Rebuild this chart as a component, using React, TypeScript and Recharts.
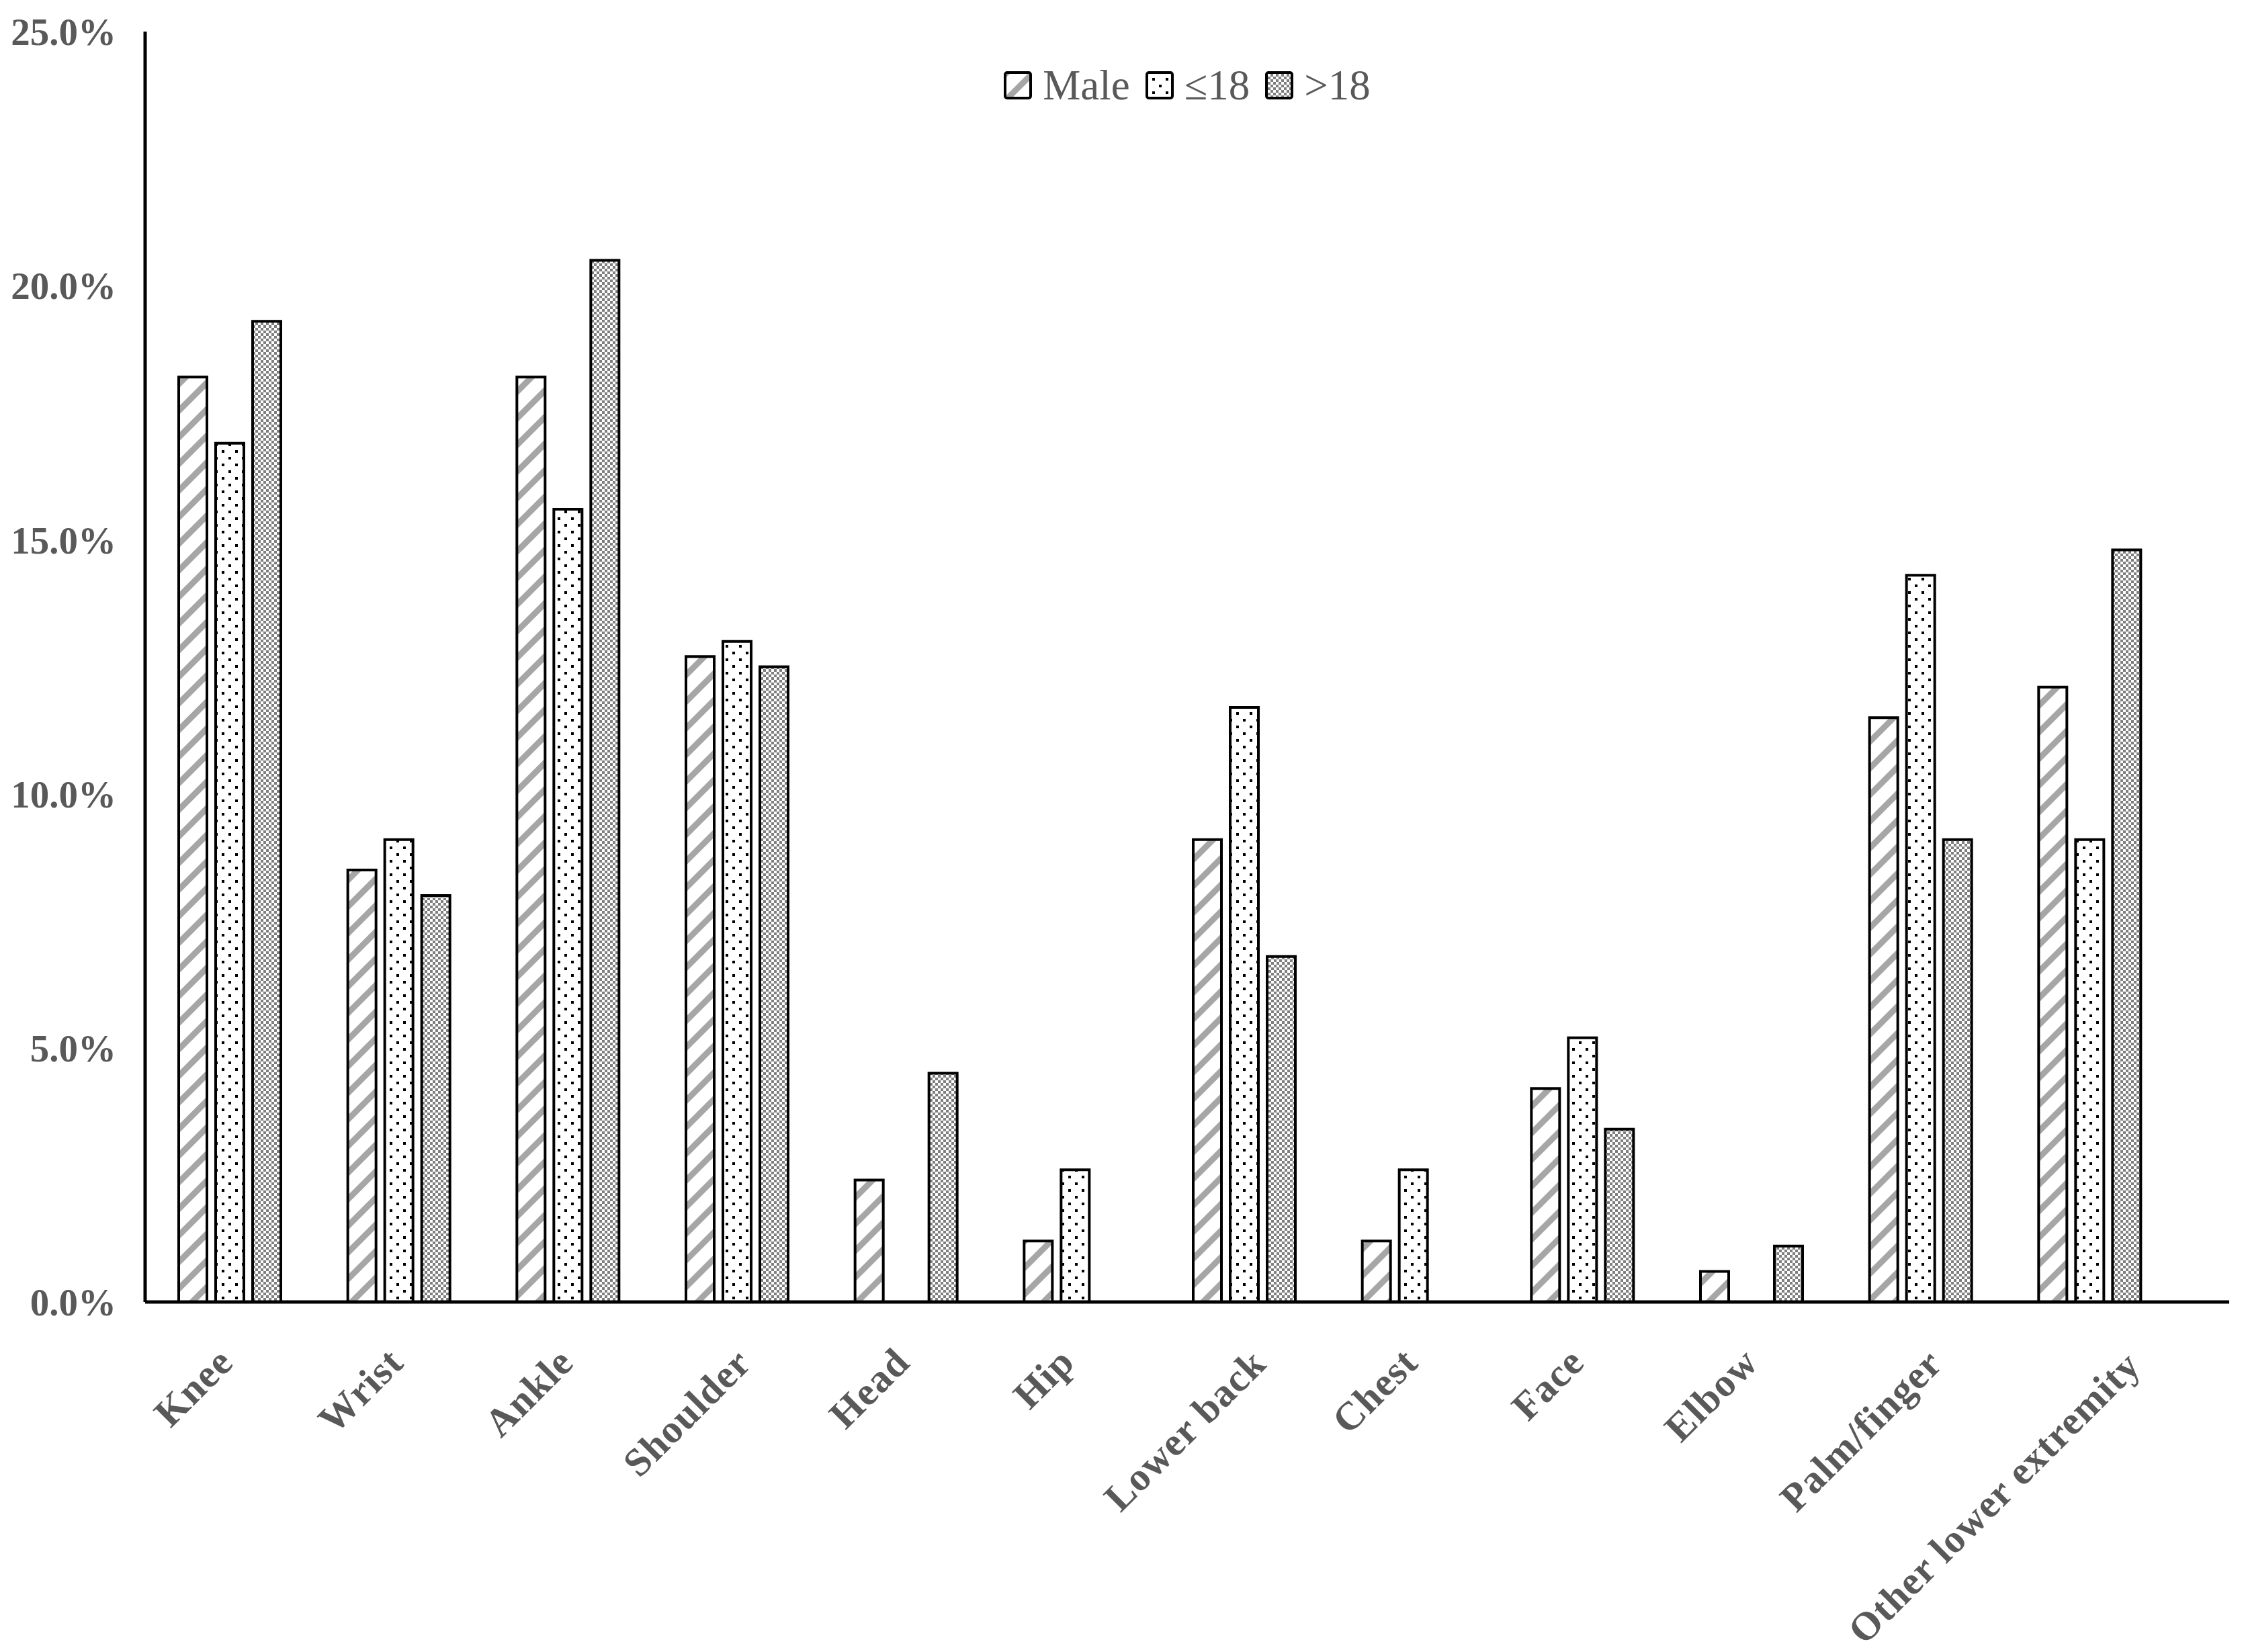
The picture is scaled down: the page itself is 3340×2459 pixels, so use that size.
import React from 'react';
import { Bar, BarChart, Legend, XAxis, YAxis } from 'recharts';

const categories = [
  'Knee',
  'Wrist',
  'Ankle',
  'Shoulder',
  'Head',
  'Hip',
  'Lower back',
  'Chest',
  'Face',
  'Elbow',
  'Palm/finger',
  'Other lower extremity',
];
const maleValues = [18.2, 8.5, 18.2, 12.7, 2.4, 1.2, 9.1, 1.2, 4.2, 0.6, 11.5, 12.1];
const under18Values = [16.9, 9.1, 15.6, 13.0, 0, 2.6, 11.7, 2.6, 5.2, 0, 14.3, 9.1];
const over18Values = [19.3, 8.0, 20.5, 12.5, 4.5, 0, 6.8, 0, 3.4, 1.1, 9.1, 14.8];
const yTicks = [0, 5, 10, 15, 20, 25];

const seriesList = [
  { key: 'male', name: 'Male', fill: 'url(#stripes)' },
  { key: 'under18', name: '≤18', fill: 'url(#dots)' },
  { key: 'over18', name: '>18', fill: 'url(#checker)' },
];

const chartData = categories.map((name, i) => ({
  name,
  male: maleValues[i],
  under18: under18Values[i],
  over18: over18Values[i],
}));

const FONT = '"Liberation Serif", "Times New Roman", serif';
const TEXT_GREY = '#595959';

// measure label width so longer labels get nudged like Excel does
let measureCtx: CanvasRenderingContext2D | null = null;
const labelWidth = (label: string) => {
  if (!measureCtx) {
    measureCtx = document.createElement('canvas').getContext('2d');
  }
  if (!measureCtx) return label.length * 28;
  measureCtx.font = `bold 57px ${FONT}`;
  return measureCtx.measureText(label).width;
};

// x labels are rotated -45deg, right end sits just under the category
const AngledTick = ({ x, y, payload }: any) => {
  const w = labelWidth(String(payload.value));
  const dx = 0.17 * (w - 80);
  const dy = 93 + 0.012 * (w - 127);
  return (
    <g transform={`translate(${x + dx},${y + dy})`}>
      <text
        textAnchor='end'
        transform='rotate(-45)'
        fill={TEXT_GREY}
        fontSize={59}
        letterSpacing={1.2}
        fontWeight='bold'
        fontFamily={FONT}
      >
        {payload.value}
      </text>
    </g>
  );
};

const renderLegend = () => (
  <div
    style={{
      position: 'absolute',
      top: 106,
      left: 216,
      width: 3102,
      display: 'flex',
      justifyContent: 'center',
      alignItems: 'center',
      fontFamily: FONT,
      fontSize: 63,
      color: TEXT_GREY,
    }}
  >
    {seriesList.map((s, i) => (
      <div
        key={s.key}
        style={{ display: 'flex', alignItems: 'center', marginLeft: i === 0 ? 0 : 23 }}
      >
        <svg width={42} height={42}>
          <rect x={2} y={2} width={38} height={38} rx={3} fill={s.fill} stroke='#000' strokeWidth={4} />
        </svg>
        <span style={{ marginLeft: 16, lineHeight: '42px' }}>{s.name}</span>
      </div>
    ))}
  </div>
);

const App = () => {
  return (
    <div style={{ position: 'absolute', left: 0, top: 0, background: '#fff' }}>
      <BarChart
        width={3340}
        height={2459}
        data={chartData}
        margin={{ top: 47, right: 22, left: 0, bottom: 0 }}
        barSize={42}
        barGap={13}
      >
        <defs>
          <pattern id='stripes' patternUnits='userSpaceOnUse' width={28} height={28} patternTransform='rotate(45)'>
            <rect width={28} height={28} fill='#fff' />
            <rect x={0} y={0} width={9} height={28} fill='#a6a6a6' />
          </pattern>
          <pattern id='dots' patternUnits='userSpaceOnUse' width={20} height={20}>
            <rect width={20} height={20} fill='#fff' />
            <rect x={0} y={0} width={4} height={4} fill='#000' />
            <rect x={10} y={10} width={4} height={4} fill='#000' />
          </pattern>
          <pattern id='checker' patternUnits='userSpaceOnUse' width={8} height={8}>
            <rect width={8} height={8} fill='#7f7f7f' />
            <rect x={0} y={0} width={4} height={4} fill='#fff' />
            <rect x={4} y={4} width={4} height={4} fill='#fff' />
          </pattern>
        </defs>
        <XAxis
          dataKey='name'
          interval={0}
          height={521}
          padding={{ left: 0, right: 82 }}
          tickLine={false}
          tickSize={0}
          tickMargin={0}
          axisLine={{ stroke: '#000', strokeWidth: 5 }}
          tick={<AngledTick />}
        />
        <YAxis
          width={216}
          domain={[0, 25]}
          ticks={yTicks}
          interval={0}
          tickLine={false}
          tickSize={0}
          tickMargin={43}
          axisLine={{ stroke: '#000', strokeWidth: 5 }}
          tickFormatter={(v: number) => `${v.toFixed(1)}%`}
          tick={{ fill: TEXT_GREY, fontSize: 57, fontWeight: 'bold', fontFamily: FONT }}
        />
        <Legend verticalAlign='top' wrapperStyle={{ top: 0, left: 0, width: 3340, height: 0 }} content={renderLegend} />
        {seriesList.map((s) => (
          <Bar
            key={s.key}
            dataKey={s.key}
            name={s.name}
            fill={s.fill}
            stroke='#000'
            strokeWidth={4}
            isAnimationActive={false}
          />
        ))}
      </BarChart>
    </div>
  );
};

export default App;
